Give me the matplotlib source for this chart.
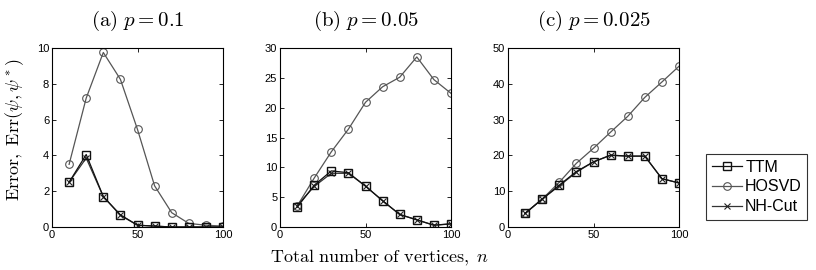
import numpy as np
import matplotlib.pyplot as plt

plt.rcParams["mathtext.fontset"] = "cm"
plt.rcParams["font.family"] = ["Liberation Sans", "DejaVu Sans"]

n = [10, 20, 30, 40, 50, 60, 70, 80, 90, 100]

ttm_a = [2.5, 4.05, 1.7, 0.68, 0.1, 0.05, 0.0, 0.0, 0.0, 0.0]
hosvd_a = [3.5, 7.2, 9.75, 8.25, 5.45, 2.3, 0.8, 0.2, 0.1, 0.05]
nhcut_a = [2.5, 3.85, 1.7, 0.65, 0.1, 0.05, 0.0, 0.0, 0.0, 0.0]

ttm_b = [3.3, 7.0, 9.4, 9.1, 6.85, 4.4, 2.1, 1.2, 0.3, 0.55]
hosvd_b = [3.5, 8.2, 12.6, 16.4, 20.9, 23.5, 25.1, 28.5, 24.7, 22.4]
nhcut_b = [3.6, 6.8, 9.0, 9.0, 6.85, 4.4, 2.1, 1.2, 0.3, 0.5]

ttm_c = [3.8, 7.8, 11.7, 15.5, 18.2, 20.1, 19.8, 19.8, 13.5, 12.3]
hosvd_c = [3.8, 7.8, 12.5, 17.8, 22.0, 26.5, 30.9, 36.2, 40.5, 44.9]
nhcut_c = [3.8, 7.8, 11.5, 15.3, 18.2, 20.0, 19.8, 19.8, 13.5, 12.3]

titles = [r"$\mathrm{(a)}\ p = 0.1$", r"$\mathrm{(b)}\ p = 0.05$", r"$\mathrm{(c)}\ p = 0.025$"]
ymax = [10, 30, 50]
ystep = [2, 5, 10]
panels = [(ttm_a, hosvd_a, nhcut_a), (ttm_b, hosvd_b, nhcut_b), (ttm_c, hosvd_c, nhcut_c)]

fig = plt.figure(figsize=(8.16, 2.7), dpi=100)
W, H = 816, 270
lefts = [52, 280, 508]
aw = 171
top, bottom = 48, 227

for i, (ttm, hosvd, nhcut) in enumerate(panels):
    ax = fig.add_axes([lefts[i] / W, 1 - bottom / H, aw / W, (bottom - top) / H])
    ax.plot(n, hosvd, color="#555555", lw=0.9, marker="o", ms=5.5, mfc="none",
            mec="#555555", mew=0.8, label="HOSVD")
    ax.plot(n, nhcut, color="#333333", lw=0.9, marker="x", ms=5, mec="#222222",
            mew=0.8, label="NH-Cut")
    ax.plot(n, ttm, color="#111111", lw=0.9, marker="s", ms=5.5, mfc="none",
            mec="#111111", mew=1.0, label="TTM")
    ax.set_xlim(0, 100)
    ax.set_ylim(0, ymax[i])
    ax.set_xticks([0, 50, 100])
    ax.set_yticks(np.arange(0, ymax[i] + 1, ystep[i]))
    ax.tick_params(direction="in", top=True, right=True, labelsize=8,
                   length=3, width=0.6, pad=2)
    for s in ax.spines.values():
        s.set_linewidth(0.8)
    ax.set_title(titles[i], fontsize=15, pad=16)
    if i == 2:
        h, l = ax.get_legend_handles_labels()
        order = [2, 0, 1]
        leg = fig.legend([h[k] for k in order], [l[k] for k in order],
                         loc="upper left", bbox_to_anchor=(706 / W, 1 - 154 / H),
                         fontsize=11.5, frameon=True, fancybox=False,
                         edgecolor="black", handlelength=1.9, handletextpad=0.2,
                         borderpad=0.35, labelspacing=0.3, borderaxespad=0)
        leg.get_frame().set_linewidth(0.8)

fig.text(3 / W, 0.52, r"$\mathrm{Error,\ Err}(\psi,\psi^*)$", rotation=90,
         ha="left", va="center", fontsize=13)
fig.text(380 / W, 2 / H, r"$\mathrm{Total\ number\ of\ vertices,}\ n$",
         ha="center", va="bottom", fontsize=13)

fig.savefig("out.png", dpi=100)
